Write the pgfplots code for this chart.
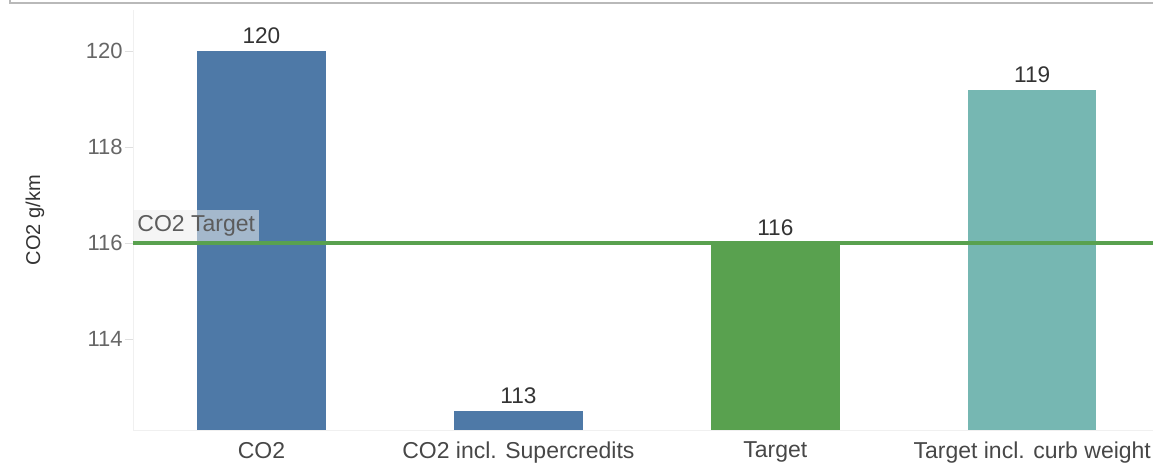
\documentclass[border=0pt]{standalone}
\usepackage{fontspec}
\setmainfont{Liberation Sans}
\usepackage{pgfplots}
\pgfplotsset{compat=1.18}

\definecolor{barblue}{HTML}{4E79A7}
\definecolor{bargreen}{HTML}{59A14F}
\definecolor{barteal}{HTML}{76B7B2}
\definecolor{ticktext}{HTML}{666666}
\definecolor{valtext}{HTML}{333333}

\begin{document}
\begin{tikzpicture}
\begin{axis}[
    scale only axis,
    width=510pt, height=210pt,
    xmin=-0.5, xmax=3.47,
    ymin=112.11, ymax=120.86,
    ybar, bar width=0.5, bar shift=0pt,
    xtick={0,1,2,3},
    xticklabels={CO2, CO2 incl. Supercredits, Target, Target incl. curb weight},
    ytick={114,116,118,120},
    axis x line*=bottom, axis y line*=left,
    axis line style={draw=gray!12},
    x axis line style={-}, y axis line style={-},
    xtick style={draw=none},
    ytick style={draw=gray!25},
    tick align=outside, major tick length=4pt,
    ticklabel style={font=\fontsize{11}{13}\selectfont, text=ticktext},
    yticklabel style={inner sep=1pt},
    xticklabel style={text=valtext!90, font=\fontsize{11.5}{13}\selectfont, yshift=1.5pt},
    /pgf/number format/assume math mode=true,
    ylabel={CO2 g/km},
    every axis y label/.style={at={([xshift=-49pt]rel axis cs:0,0.5)}, rotate=90, anchor=center, font=\fontsize{10}{12}\selectfont, text=valtext},
    nodes near coords,
    point meta=explicit symbolic,
    every node near coord/.append style={font=\fontsize{11.3}{13}\selectfont, text=valtext},
]
\addplot[fill=barblue, draw=none] coordinates {(0,120) [120]};
\addplot[fill=barblue, draw=none] coordinates {(1,112.5) [113]};
\addplot[fill=bargreen, draw=none] coordinates {(2,116) [116]};
\addplot[fill=barteal, draw=none] coordinates {(3,119.2) [119]};
\addplot[sharp plot, nodes near coords={}, draw=bargreen, line width=2pt, mark=none] coordinates {(-0.5,116) (3.47,116)};
\coordinate (bl) at (rel axis cs:0,0);
\coordinate (tg) at (axis cs:-0.5,116);
\end{axis}
\node[anchor=south west, fill=gray!15, fill opacity=0.55, text opacity=1, text=ticktext!90!black,
      font=\fontsize{11.5}{13}\selectfont, inner xsep=2pt, inner ysep=2.5pt, minimum height=13.5pt]
      at ([yshift=1pt]tg) {CO2 Target};
\draw[gray!55, line width=0.8pt] ([shift={(-61.5pt,216pt)}]bl) -- ([shift={(-61.5pt,213.5pt)}]bl) -- ([shift={(512pt,213.5pt)}]bl);
\pgfresetboundingbox
\path[use as bounding box] ([shift={(-66.5pt,-16pt)}]bl) rectangle ([shift={(510pt,215pt)}]bl);
\end{tikzpicture}
\end{document}
